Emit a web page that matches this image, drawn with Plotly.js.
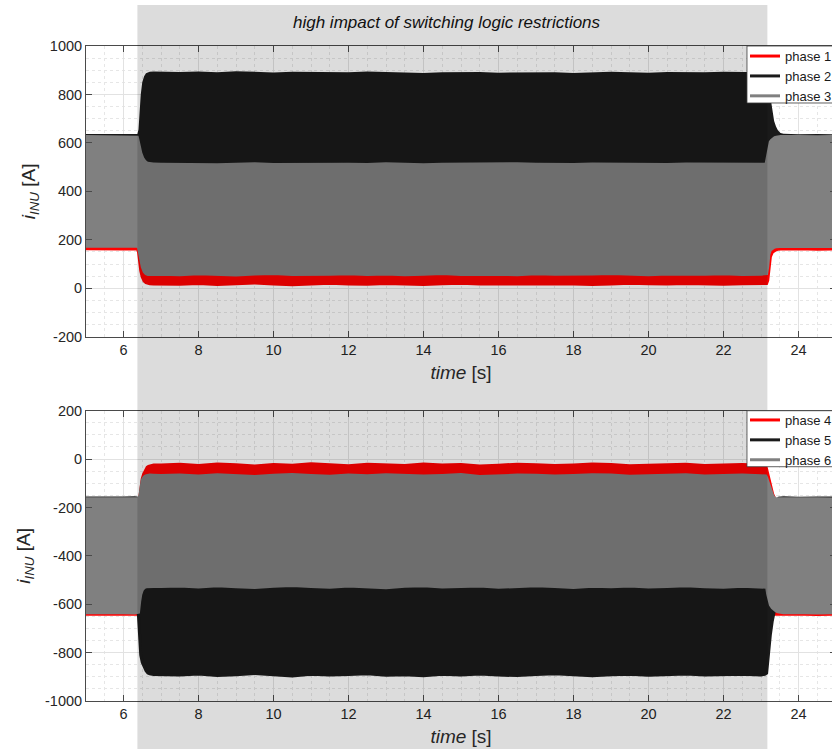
<!DOCTYPE html>
<html>
<head>
<meta charset="utf-8">
<script src="https://cdn.plot.ly/plotly-3.0.1.min.js"></script>
<style>
  html, body { margin: 0; padding: 0; overflow: hidden; background: #fff; }
  #chart { width: 850px; height: 749px; }
</style>
</head>
<body>
<div id="chart"></div>
<script>
// Sample times [s]; dense around the two switching transitions
const time = [
  5.0, 5.5, 6.0, 6.3, 6.37, 6.40, 6.43, 6.46, 6.50, 6.55, 6.60, 6.65, 6.70, 6.80,
  7.0, 7.5, 8.0, 8.5, 9.0, 9.5, 10.0, 10.5, 11.0, 11.5, 12.0,
  12.5, 13.0, 13.5, 14.0, 14.5, 15.0, 15.5, 16.0, 16.5, 17.0, 17.5,
  18.0, 18.5, 19.0, 19.5, 20.0, 20.5, 21.0, 21.5, 22.0, 22.5, 23.0,
  23.10, 23.15, 23.18, 23.21, 23.25, 23.30, 23.35, 23.40, 23.45, 23.52, 23.60, 23.80, 24.0, 24.5, 25.0
];

// Restricted switching interval [s]
const restrictStart = 6.37;
const restrictEnd = 23.17;

// Upper inverter: envelope (min / max) of each phase current [A]
const phase1Min = [
  163, 161, 162, 163, 162, 150, 110, 72, 46, 30, 23, 20, 19, 18,
  18, 16, 20, 15, 19, 22, 17, 14, 18, 21, 17,
  16, 20, 18, 15, 19, 21, 17, 18, 16, 20, 19,
  17, 15, 18, 21, 19, 17, 20, 18, 16, 19, 18,
  19, 20, 32, 83, 130, 148, 155, 159, 161, 162, 163, 162, 163, 161, 162
];
const phase1Max = [
  420, 420, 420, 420, 420, 420, 400, 380, 350, 320, 300, 300, 300, 300,
  300, 300, 300, 300, 300, 300, 300, 300, 300, 300, 300,
  300, 300, 300, 300, 300, 300, 300, 300, 300, 300, 300,
  300, 300, 300, 300, 300, 300, 300, 300, 300, 300, 300,
  300, 300, 300, 300, 300, 340, 380, 410, 420, 420, 420, 420, 420, 420, 420
];
const phase2Min = [
  240, 240, 240, 240, 240, 240, 250, 270, 290, 310, 320, 330, 330, 330,
  330, 330, 330, 330, 330, 330, 330, 330, 330, 330, 330,
  330, 330, 330, 330, 330, 330, 330, 330, 330, 330, 330,
  330, 330, 330, 330, 330, 330, 330, 330, 330, 330, 330,
  330, 330, 330, 330, 330, 310, 290, 270, 250, 240, 240, 240, 240, 240, 240
];
const phase2Max = [
  637, 636, 637, 636, 637, 655, 730, 800, 850, 875, 887, 892, 894, 895,
  894, 893, 895, 892, 896, 893, 891, 894, 893, 890, 892,
  895, 893, 891, 889, 892, 894, 893, 890, 891, 893, 892,
  889, 891, 894, 892, 890, 893, 891, 892, 894, 892, 891,
  892, 888, 870, 840, 790, 735, 690, 668, 652, 641, 638, 637, 636, 637, 636
];
const phase3Min = [
  173, 172, 173, 173, 173, 168, 145, 115, 88, 68, 60, 57, 56, 57,
  58, 56, 60, 57, 55, 59, 61, 57, 56, 58, 60,
  57, 59, 56, 58, 61, 57, 59, 58, 56, 60, 58,
  57, 59, 61, 58, 56, 59, 57, 58, 60, 57, 58,
  58, 60, 90, 140, 158, 165, 169, 171, 172, 173, 173, 172, 173, 173, 172
];
const phase3Max = [
  633, 632, 633, 632, 633, 630, 610, 585, 560, 540, 528, 522, 520, 519,
  518, 517, 519, 516, 518, 520, 517, 518, 516, 519, 518,
  517, 520, 518, 516, 518, 519, 517, 518, 520, 518, 516,
  517, 519, 518, 516, 518, 517, 519, 518, 517, 519, 518,
  518, 560, 595, 607, 615, 622, 627, 630, 632, 633, 633, 632, 633, 632, 633
];

// Lower inverter: envelope (min / max) of each phase current [A]
const phase4Min = [
  -641, -640, -642, -641, -641, -641, -600, -500, -400, -400, -400, -400, -400, -400,
  -400, -400, -400, -400, -400, -400, -400, -400, -400, -400, -400,
  -400, -400, -400, -400, -400, -400, -400, -400, -400, -400, -400,
  -400, -400, -400, -400, -400, -400, -400, -400, -400, -400, -400,
  -400, -400, -410, -430, -450, -560, -641, -640, -641, -642, -641, -640, -641, -642, -641
];
const phase4Max = [
  -165, -165, -165, -165, -165, -152, -112, -80, -60, -42, -30, -24, -21, -18,
  -18, -15, -20, -14, -17, -22, -16, -19, -13, -18, -21,
  -15, -17, -20, -14, -18, -16, -22, -19, -15, -17, -20,
  -18, -14, -16, -21, -19, -17, -15, -20, -18, -16, -19,
  -19, -22, -35, -55, -86, -118, -143, -160, -165, -165, -165, -165, -165, -165, -165
];
const phase5Min = [
  -600, -600, -600, -600, -600, -650, -760, -810, -840, -862, -875, -884, -888, -890,
  -890, -893, -888, -895, -891, -886, -892, -897, -889, -893, -890,
  -887, -894, -891, -896, -889, -892, -888, -893, -895, -890, -887,
  -892, -896, -891, -889, -894, -890, -888, -893, -891, -889, -892,
  -890, -885, -840, -775, -725, -670, -632, -620, -610, -600, -600, -600, -600, -600, -600
];
const phase5Max = [
  -155, -156, -155, -154, -155, -160, -200, -250, -300, -300, -300, -300, -300, -300,
  -300, -300, -300, -300, -300, -300, -300, -300, -300, -300, -300,
  -300, -300, -300, -300, -300, -300, -300, -300, -300, -300, -300,
  -300, -300, -300, -300, -300, -300, -300, -300, -300, -300, -300,
  -300, -300, -300, -300, -300, -300, -300, -170, -156, -155, -154, -155, -156, -155, -154
];
const phase6Min = [
  -635, -634, -635, -636, -635, -633, -590, -560, -541, -532, -528, -527, -526, -527,
  -527, -525, -529, -524, -528, -531, -526, -523, -527, -530, -525,
  -528, -532, -526, -524, -529, -527, -525, -530, -528, -524, -527,
  -531, -526, -528, -525, -529, -527, -524, -528, -530, -526, -527,
  -527, -530, -560, -585, -603, -615, -623, -628, -631, -633, -635, -634, -635, -636, -635
];
const phase6Max = [
  -158, -159, -158, -158, -158, -150, -115, -85, -74, -66, -63, -61, -60, -61,
  -62, -60, -64, -59, -63, -66, -61, -58, -62, -65, -60,
  -63, -59, -61, -64, -62, -58, -66, -63, -60, -61, -64,
  -62, -59, -60, -65, -63, -61, -59, -64, -62, -60, -63,
  -62, -64, -72, -85, -105, -130, -150, -158, -159, -158, -158, -159, -158, -158, -159
];

// Tick labels
const timeTicks = [6, 8, 10, 12, 14, 16, 18, 20, 22, 24];
const upperTicks = [-200, 0, 200, 400, 600, 800, 1000];
const upperTickText = ['-200', '0', '200', '400', '600', '800', '1000'];
const lowerTicks = [-1000, -800, -600, -400, -200, 0, 200];
const lowerTickText = ['-1000', '-800', '-600', '-400', '-200', '0', '200'];

const phaseColors = ['#ff0000', '#1a1a1a', '#808080'];

// One phase = min line (carries the legend entry) + max line filled down to it
function phaseBand(lo, hi, color, name, xa, ya, legend) {
  return [
    {
      x: time, y: lo, type: 'scatter', mode: 'lines', name: name,
      line: {color: color, width: 3}, xaxis: xa, yaxis: ya,
      legend: legend, hoverinfo: 'skip'
    },
    {
      x: time, y: hi, type: 'scatter', mode: 'lines', name: name,
      line: {color: color, width: 0}, fill: 'tonexty', fillcolor: color,
      xaxis: xa, yaxis: ya, showlegend: false, hoverinfo: 'skip'
    }
  ];
}

const traces = [].concat(
  phaseBand(phase1Min, phase1Max, phaseColors[0], 'phase 1', 'x', 'y', 'legend'),
  phaseBand(phase2Min, phase2Max, phaseColors[1], 'phase 2', 'x', 'y', 'legend'),
  phaseBand(phase3Min, phase3Max, phaseColors[2], 'phase 3', 'x', 'y', 'legend'),
  phaseBand(phase4Min, phase4Max, phaseColors[0], 'phase 4', 'x2', 'y2', 'legend2'),
  phaseBand(phase5Min, phase5Max, phaseColors[1], 'phase 5', 'x2', 'y2', 'legend2'),
  phaseBand(phase6Min, phase6Max, phaseColors[2], 'phase 6', 'x2', 'y2', 'legend2')
);

const axisInk = '#4a4a4a';
const labelFont = {family: 'Liberation Sans, Arial, sans-serif', size: 19, color: '#262626'};

function timeAxis(anchor) {
  return {
    anchor: anchor, domain: [0, 1], range: [5, 25],
    tickmode: 'array', tickvals: timeTicks,
    ticks: 'inside', ticklen: 6, tickwidth: 1, tickcolor: axisInk,
    showline: true, linecolor: axisInk, linewidth: 1, mirror: 'ticks',
    showgrid: true, gridcolor: '#e2e2e2', gridwidth: 1, zeroline: false,
    minor: {tickmode: 'linear', tick0: 5, dtick: 0.5, showgrid: true,
            gridcolor: '#e6e6e6', griddash: 'dot', gridwidth: 1, ticks: ''},
    tickfont: {size: 14.5},
    title: {text: '<i>time</i> [s]', font: labelFont, standoff: 8}
  };
}

function currentAxis(domain, range, vals, text) {
  return {
    domain: domain, range: range,
    tickmode: 'array', tickvals: vals, ticktext: text,
    ticks: 'inside', ticklen: 6, tickwidth: 1, tickcolor: axisInk,
    showline: true, linecolor: axisInk, linewidth: 1, mirror: 'ticks',
    showgrid: true, gridcolor: '#e2e2e2', gridwidth: 1, zeroline: false,
    minor: {tickmode: 'linear', tick0: 0, dtick: 50, showgrid: true,
            gridcolor: '#e6e6e6', griddash: 'dot', gridwidth: 1, ticks: ''},
    tickfont: {size: 14.5},
    title: {text: '<i>i</i><sub><i>INU</i></sub> [A]', font: labelFont, standoff: 9}
  };
}

function legendBox(y0, y1) {
  return {
    type: 'rect', xref: 'paper', yref: 'paper', x0: 0.8813, x1: 1.05, y0: y0, y1: y1,
    fillcolor: '#ffffff', line: {color: '#3a3a3a', width: 0.8}, layer: 'above'
  };
}

function legendStyle(y) {
  return {
    x: 0.8787, xanchor: 'left', y: y, yanchor: 'top', traceorder: 'normal',
    bgcolor: 'rgba(0,0,0,0)', borderwidth: 0,
    font: {family: 'Liberation Sans, Arial, sans-serif', size: 13, color: '#1a1a1a'}
  };
}

const layout = {
  width: 850, height: 749,
  margin: {l: 86, r: 14, t: 46, b: 48},
  paper_bgcolor: '#ffffff', plot_bgcolor: '#ffffff',
  font: {family: 'Liberation Sans, Arial, sans-serif', size: 14.5, color: '#262626'},
  showlegend: true,
  xaxis: timeAxis('y'),
  yaxis: currentAxis([0.5562, 1], [-200, 1000], upperTicks, upperTickText),
  xaxis2: Object.assign(timeAxis('y2'), {matches: 'x'}),
  yaxis2: currentAxis([0, 0.4432], [-1000, 200], lowerTicks, lowerTickText),
  legend: legendStyle(1.0075),
  legend2: legendStyle(0.4519),
  shapes: [
    // shaded interval with restricted switching logic (darkens everything below it)
    {type: 'rect', xref: 'x', yref: 'paper', x0: restrictStart, x1: restrictEnd,
     y0: -0.09, y1: 1.0626, fillcolor: 'rgba(0,0,0,0.137)', line: {width: 0}, layer: 'above'},
    legendBox(0.91298, 1.0),
    legendBox(0.3577, 0.4432)
  ],
  annotations: [
    {text: '<i>high impact of switching logic restrictions</i>', xref: 'paper', yref: 'paper',
     x: 0.4813, y: 1.0366, xanchor: 'center', yanchor: 'middle', showarrow: false,
     font: {family: 'Liberation Sans, Arial, sans-serif', size: 17, color: '#111111'}}
  ]
};

Plotly.newPlot('chart', traces, layout, {displayModeBar: false, staticPlot: true});
</script>
</body>
</html>
